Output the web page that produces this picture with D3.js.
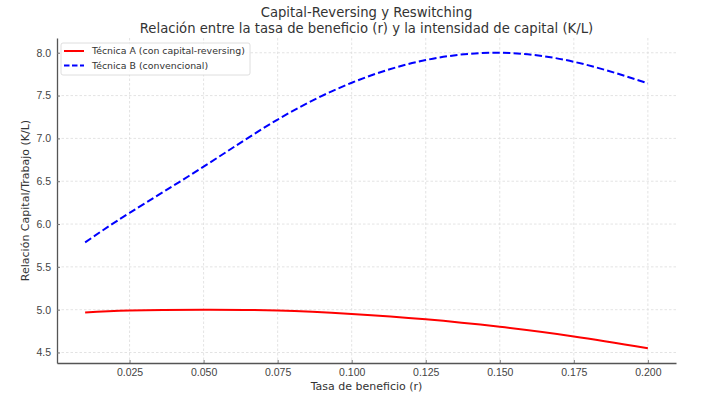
<!DOCTYPE html>
<html>
<head>
<meta charset="utf-8">
<script src="https://cdn.jsdelivr.net/npm/d3@7"></script>
<style>
  body { margin: 0; background: #fff; }
  svg { font-family: "DejaVu Sans", sans-serif; }
</style>
</head>
<body>
<div id="chart"></div>
<script>
// Valors llegits de la imatge
const rates = [0.01, 0.025, 0.05, 0.075, 0.1, 0.125, 0.15, 0.175, 0.2];
const tecnicaA = [4.966, 4.990, 5.000, 4.990, 4.950, 4.888, 4.800, 4.688, 4.550];
const tecnicaB = [5.786, 6.130, 6.670, 7.220, 7.650, 7.915, 8.000, 7.895, 7.644];
const xTicks = [0.025, 0.05, 0.075, 0.1, 0.125, 0.15, 0.175, 0.2];
const yTicks = [4.5, 5.0, 5.5, 6.0, 6.5, 7.0, 7.5, 8.0];
const series = [
    { name: "Técnica A (con capital-reversing)", values: tecnicaA, color: "#ff0000", dash: null },
    { name: "Técnica B (convencional)", values: tecnicaB, color: "#0000ff", dash: "7.4,3.2" }
];

const W = 722, H = 397;
const margin = { top: 38, right: 46, bottom: 34, left: 57 };
const width = W - margin.left - margin.right;
const height = H - margin.top - margin.bottom;

const svg = d3.select("#chart").append("svg")
    .attr("width", W)
    .attr("height", H);

const g = svg.append("g").attr("transform", `translate(${margin.left},${margin.top})`);

// Marges de 5% com matplotlib
const xPad = (0.2 - 0.01) * 0.05;
const x = d3.scaleLinear().domain([0.01 - xPad, 0.2 + xPad]).range([0, width]);
const yMin = 4.55, yMax = 8.0, yPad = (yMax - yMin) * 0.05;
const y = d3.scaleLinear().domain([yMin - yPad, yMax + yPad]).range([height, 0]);

// Graella
g.append("g").selectAll("line").data(xTicks).join("line")
    .attr("x1", d => x(d)).attr("x2", d => x(d))
    .attr("y1", 0).attr("y2", height)
    .attr("stroke", "#dcdcdc").attr("stroke-width", 0.8).attr("stroke-dasharray", "2.5,2");
g.append("g").selectAll("line").data(yTicks).join("line")
    .attr("x1", 0).attr("x2", width)
    .attr("y1", d => y(d)).attr("y2", d => y(d))
    .attr("stroke", "#dcdcdc").attr("stroke-width", 0.8).attr("stroke-dasharray", "2.5,2");

// Eixos
const xAxis = g.append("g")
    .attr("transform", `translate(0,${height})`)
    .call(d3.axisBottom(x).tickValues(xTicks).tickFormat(d3.format(".3f")).tickSizeInner(-3).tickSizeOuter(0).tickPadding(6));
const yAxis = g.append("g")
    .call(d3.axisLeft(y).tickValues(yTicks).tickFormat(d3.format(".1f")).tickSizeInner(-3).tickSizeOuter(0).tickPadding(6));

[xAxis, yAxis].forEach(a => {
    a.select(".domain").attr("stroke", "#555").attr("stroke-width", 1.3);
    a.selectAll(".tick line").attr("stroke", "#777");
    a.selectAll(".tick text").attr("fill", "#444").style("font-size", "10.5px");
});

// Línies
const line = d3.line().x((d, i) => x(rates[i])).y(d => y(d)).curve(d3.curveNatural);
g.selectAll(".serie").data(series).join("path")
    .attr("class", "serie")
    .attr("d", d => line(d.values))
    .attr("fill", "none")
    .attr("stroke", d => d.color)
    .attr("stroke-width", 2)
    .attr("stroke-dasharray", d => d.dash);

// Títol
const title = svg.append("text")
    .attr("x", margin.left + width / 2)
    .attr("text-anchor", "middle")
    .attr("fill", "#333")
    .style("font-size", "13.2px");
title.append("tspan").attr("x", margin.left + width / 2).attr("y", 17).text("Capital-Reversing y Reswitching");
title.append("tspan").attr("x", margin.left + width / 2).attr("y", 33).text("Relación entre la tasa de beneficio (r) y la intensidad de capital (K/L)");

// Etiquetes dels eixos
svg.append("text")
    .attr("x", margin.left + width / 2)
    .attr("y", 390)
    .attr("text-anchor", "middle")
    .attr("fill", "#333")
    .style("font-size", "11px")
    .text("Tasa de beneficio (r)");
svg.append("text")
    .attr("transform", `translate(29,${margin.top + height / 2}) rotate(-90)`)
    .attr("text-anchor", "middle")
    .attr("fill", "#333")
    .style("font-size", "11px")
    .text("Relación Capital/Trabajo (K/L)");

// Llegenda
const legend = g.append("g").attr("transform", "translate(4,5)");
legend.append("rect")
    .attr("width", 189).attr("height", 32)
    .attr("rx", 2)
    .attr("fill", "#fff").attr("fill-opacity", 0.85)
    .attr("stroke", "#d5d5d5").attr("stroke-width", 0.8);
const items = legend.selectAll(".item").data(series).join("g")
    .attr("class", "item")
    .attr("transform", (d, i) => `translate(0,${8 + i * 14.5})`);
items.append("line")
    .attr("x1", 3).attr("x2", 23)
    .attr("stroke", d => d.color).attr("stroke-width", 2)
    .attr("stroke-dasharray", d => d.dash ? "5.5,2.5" : null);
items.append("text")
    .attr("x", 31).attr("y", 3.4)
    .attr("fill", "#333")
    .style("font-size", "9.4px")
    .text(d => d.name);
</script>
</body>
</html>
